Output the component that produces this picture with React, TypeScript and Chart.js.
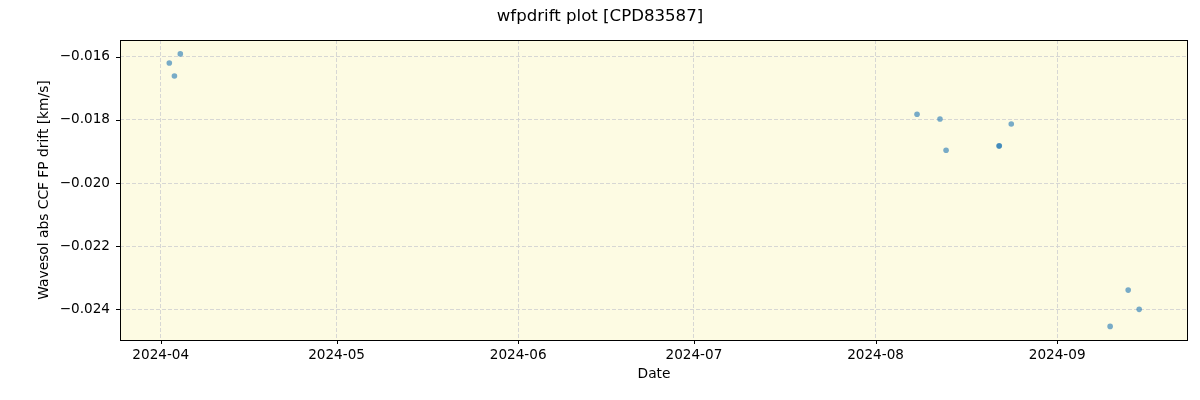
import { useEffect, useRef } from 'react';
import { Chart, registerables } from 'chart.js';

Chart.register(...registerables);

const obsDates = [
  '2024-04-02T11:00Z',
  '2024-04-03T08:00Z',
  '2024-04-04T08:00Z',
  '2024-08-08T02:00Z',
  '2024-08-12T00:00Z',
  '2024-08-13T01:00Z',
  '2024-08-22T02:00Z',
  '2024-08-22T03:00Z',
  '2024-08-24T04:00Z',
  '2024-09-10T01:00Z',
  '2024-09-13T03:00Z',
  '2024-09-15T00:00Z',
];
const driftValues = [
  -0.0162, -0.01661, -0.01591, -0.01782, -0.01797, -0.01896, -0.01883, -0.01882, -0.01813,
  -0.02454, -0.02339, -0.024,
];

const xTickMonths = ['2024-04', '2024-05', '2024-06', '2024-07', '2024-08', '2024-09'];
const yTickValues = [-0.024, -0.022, -0.02, -0.018, -0.016];

const xMinDate = '2024-03-25T01:00Z';
const xMaxDate = '2024-09-23T08:00Z';
const yMin = -0.02497;
const yMax = -0.01547;

const FONT = "'DejaVu Sans', sans-serif";
const toMs = (s: string) => new Date(s).getTime();

const framePlugin = {
  id: 'frame',
  beforeDraw(chart: any) {
    const { ctx, chartArea: a } = chart;
    ctx.save();
    ctx.fillStyle = '#fdfbe3';
    ctx.fillRect(a.left, a.top, a.right - a.left, a.bottom - a.top);
    ctx.restore();
  },
  afterDraw(chart: any) {
    const { ctx, chartArea: a, scales } = chart;
    ctx.save();
    ctx.strokeStyle = '#000';
    ctx.lineWidth = 1;
    ctx.strokeRect(a.left + 0.5, a.top + 0.5, a.right - a.left - 1, a.bottom - a.top);
    // tick marks outside the frame
    ctx.beginPath();
    scales.x.ticks.forEach((t: any) => {
      const px = Math.round(scales.x.getPixelForValue(t.value)) + 0.5;
      ctx.moveTo(px, a.bottom);
      ctx.lineTo(px, a.bottom + 4);
    });
    scales.y.ticks.forEach((t: any) => {
      const py = Math.round(scales.y.getPixelForValue(t.value)) + 0.5;
      ctx.moveTo(a.left, py);
      ctx.lineTo(a.left - 4, py);
    });
    ctx.stroke();
    // figure title
    ctx.fillStyle = '#000';
    ctx.font = `16.6px ${FONT}`;
    ctx.textAlign = 'center';
    ctx.textBaseline = 'middle';
    ctx.fillText('wfpdrift plot [CPD83587]', chart.width / 2, 17);
    ctx.restore();
  },
};

export default function App() {
  const canvasRef = useRef<HTMLCanvasElement>(null);

  useEffect(() => {
    document.body.style.margin = '0';
    if (!canvasRef.current) return;

    const points = obsDates.map((d, i) => ({ x: toMs(d), y: driftValues[i] }));

    const chart = new Chart(canvasRef.current, {
      type: 'scatter',
      data: {
        datasets: [
          {
            data: points,
            backgroundColor: 'rgba(31, 119, 180, 0.6)',
            borderColor: 'rgba(31, 119, 180, 0.6)',
            borderWidth: 0,
            pointRadius: 2.8,
          },
        ],
      },
      options: {
        animation: false,
        responsive: true,
        maintainAspectRatio: false,
        layout: { padding: { top: 40, right: 12, left: 0, bottom: 0 } },
        plugins: {
          legend: { display: false },
          tooltip: { enabled: false },
        },
        scales: {
          x: {
            type: 'linear',
            min: toMs(xMinDate),
            max: toMs(xMaxDate),
            afterBuildTicks: (scale: any) => {
              scale.ticks = xTickMonths.map((m) => ({ value: toMs(m + '-01T00:00Z') }));
            },
            afterFit: (scale: any) => {
              scale.height = 60;
            },
            grid: {
              color: '#d3d3d3',
              lineWidth: 0.9,
              drawTicks: false,
            },
            border: { display: false, dash: [4, 2] },
            ticks: {
              color: '#000',
              padding: 7,
              maxRotation: 0,
              font: { family: FONT, size: 13.6 },
              callback: (v: any) => {
                const d = new Date(Number(v));
                return `${d.getUTCFullYear()}-${String(d.getUTCMonth() + 1).padStart(2, '0')}`;
              },
            },
            title: {
              display: true,
              text: 'Date',
              color: '#000',
              font: { family: FONT, size: 13.8 },
              padding: { top: 0, bottom: 17 },
            },
          },
          y: {
            type: 'linear',
            min: yMin,
            max: yMax,
            afterBuildTicks: (scale: any) => {
              scale.ticks = yTickValues.map((v) => ({ value: v }));
            },
            afterFit: (scale: any) => {
              scale.width = 120;
            },
            grid: {
              color: '#d3d3d3',
              lineWidth: 0.9,
              drawTicks: false,
            },
            border: { display: false, dash: [4, 2] },
            ticks: {
              color: '#000',
              padding: 10,
              font: { family: FONT, size: 13.6 },
              callback: (v: any) => Number(v).toFixed(3).replace('-', '\u2212'),
            },
            title: {
              display: true,
              text: 'Wavesol abs CCF FP drift [km/s]',
              color: '#000',
              font: { family: FONT, size: 13.8 },
              padding: { top: 36, bottom: 0 },
            },
          },
        },
      },
      plugins: [framePlugin],
    });

    return () => {
      chart.destroy();
    };
  }, []);

  return (
    <div style={{ width: 1200, height: 400, position: 'relative', background: '#fff' }}>
      <canvas ref={canvasRef} />
    </div>
  );
}
